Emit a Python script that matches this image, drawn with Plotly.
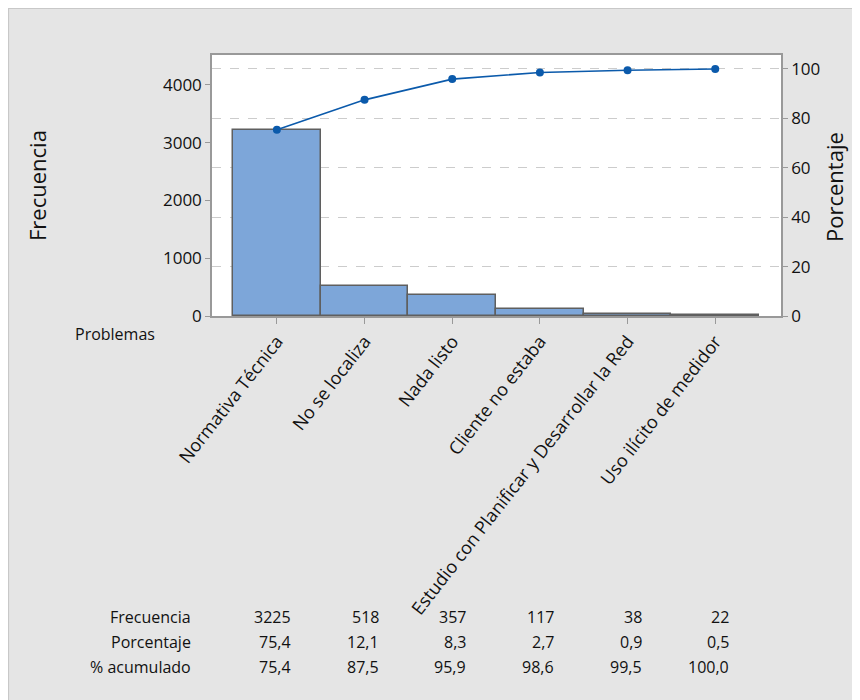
import plotly.graph_objects as go

categories = ["Normativa Técnica", "No se localiza", "Nada listo", "Cliente no estaba",
              "Estudio con Planificar y Desarrollar la Red", "Uso ilícito de medidor"]
frecuencia = [3225, 518, 357, 117, 38, 22]
porcentaje = ["75,4", "12,1", "8,3", "2,7", "0,9", "0,5"]
acumulado_txt = ["75,4", "87,5", "95,9", "98,6", "99,5", "100,0"]
acumulado = [75.4, 87.5, 95.9, 98.6, 99.5, 100.0]
freq_ticks = [0, 1000, 2000, 3000, 4000]
pct_ticks = [0, 20, 40, 60, 80, 100]

total = sum(frecuencia)
OFF = 8  # default page body margin
W, H = 860, 700
# plot area in screen pixels
SL, SR, ST, SB = 212, 781, 55, 316
L, R, T, B = SL - OFF, SR - OFF, ST - OFF, SB - OFF
ymax = 4519
y2max = ymax / total * 100

FONT = "Open Sans, Segoe UI, sans-serif"
TXT = "#111111"

def px_x(p):
    return (p - SL) / (SR - SL)

def px_y(p):
    return (SB - p) / (SB - ST)

xpos = list(range(len(categories)))

fig = go.Figure()
fig.add_trace(go.Bar(
    x=xpos, y=frecuencia, width=1.0,
    marker=dict(color="#7da6d9", line=dict(color="#5f5f5f", width=1.5)),
    yaxis="y", showlegend=False, hoverinfo="skip"))
fig.add_trace(go.Scatter(
    x=xpos, y=acumulado, mode="lines+markers",
    line=dict(color="#0b5aab", width=1.6),
    marker=dict(color="#0b5aab", size=8, symbol="circle"),
    yaxis="y2", showlegend=False, hoverinfo="skip"))

shapes = [
    dict(type="rect", xref="paper", yref="paper",
         x0=px_x(OFF + 0.5), x1=px_x(900), y0=px_y(740), y1=px_y(OFF + 0.5),
         fillcolor="#e5e5e5", line=dict(color="#c8c8c8", width=1.2), layer="below"),
    dict(type="rect", xref="paper", yref="paper", x0=0, x1=1, y0=0, y1=1,
         fillcolor="white", line=dict(width=0), layer="below"),
]

annotations = [
    dict(text="Frecuencia", xref="paper", yref="paper", x=px_x(37), y=px_y(186),
         xanchor="center", yanchor="middle",
         textangle=-90, showarrow=False, font=dict(family=FONT, size=22, color=TXT)),
    dict(text="Porcentaje", xref="paper", yref="paper", x=px_x(834), y=px_y(187),
         xanchor="center", yanchor="middle",
         textangle=-90, showarrow=False, font=dict(family=FONT, size=22, color=TXT)),
    dict(text="Problemas", xref="paper", yref="paper", x=px_x(157), y=px_y(334),
         xanchor="right", yanchor="middle", showarrow=False,
         font=dict(family=FONT, size=16, color=TXT)),
]
row_labels = ["Frecuencia", "Porcentaje", "% acumulado"]
row_vals = [[str(v) for v in frecuencia], porcentaje, acumulado_txt]
row_y = [617, 642, 667]
for lab, vals, yy in zip(row_labels, row_vals, row_y):
    annotations.append(dict(text=lab, xref="paper", yref="paper", x=px_x(193), y=px_y(yy),
                            xanchor="right", yanchor="middle", showarrow=False,
                            font=dict(family=FONT, size=16, color=TXT)))
    for i, v in enumerate(vals):
        annotations.append(dict(text=v, xref="x", yref="paper", x=i, y=px_y(yy),
                                xanchor="right", yanchor="middle", xshift=16, showarrow=False,
                                font=dict(family=FONT, size=16, color=TXT)))

fig.update_layout(
    width=W, height=H,
    margin=dict(l=L, r=W - R, t=T, b=H - B, pad=0),
    paper_bgcolor="white", plot_bgcolor="white",
    bargap=0,
    font=dict(family=FONT, size=16, color=TXT),
    xaxis=dict(range=[-0.74, 5.75], tickmode="array", tickvals=xpos, ticktext=categories,
               tickangle=-52, ticks="outside", ticklen=6, tickcolor="#999",
               showline=True, linecolor="#999", linewidth=1.5, mirror=True,
               showgrid=False, zeroline=False, tickfont=dict(family=FONT, size=18, color=TXT)),
    yaxis=dict(range=[0, ymax], tickmode="array", tickvals=freq_ticks,
               ticks="outside", ticklen=5, tickcolor="#999",
               showline=True, linecolor="#999", linewidth=1.5,
               showgrid=False, zeroline=False, tickfont=dict(family=FONT, size=17, color=TXT)),
    yaxis2=dict(range=[0, y2max], overlaying="y", side="right", tickmode="array",
                tickvals=pct_ticks, ticks="outside", ticklen=5, tickcolor="#999",
                showline=True, linecolor="#999", linewidth=1.5,
                showgrid=True, gridcolor="#cccccc", griddash="dash", gridwidth=1.2,
                zeroline=False, tickfont=dict(family=FONT, size=17, color=TXT)),
    shapes=shapes, annotations=annotations,
)

fig.write_html("out.html")
